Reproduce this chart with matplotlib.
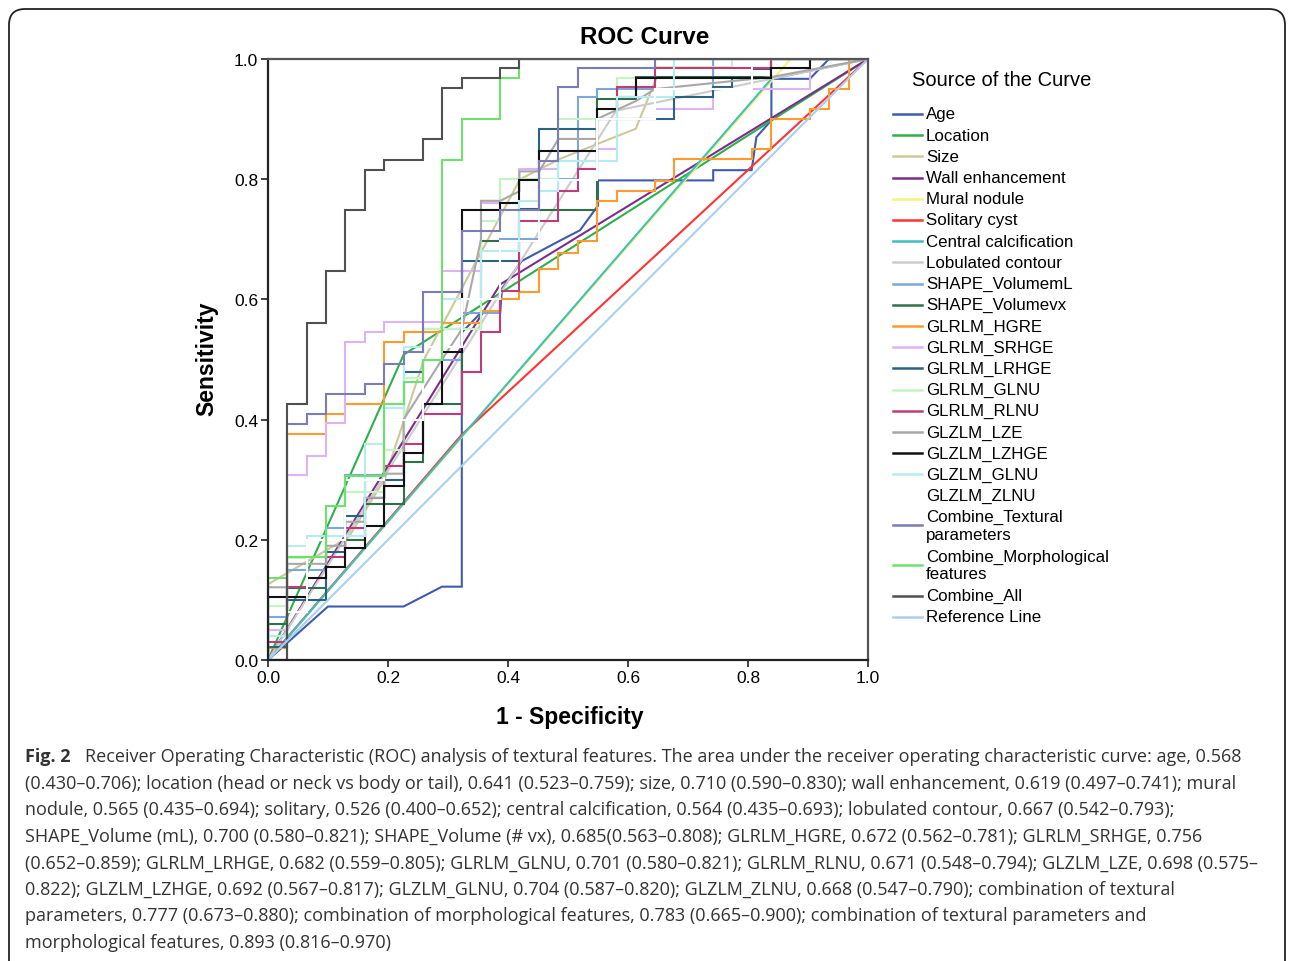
"""ROC curves of morphological and textural features (Fig. 2 replica)."""

import matplotlib
matplotlib.use("Agg")
import matplotlib.pyplot as plt
from matplotlib.lines import Line2D
from matplotlib.patches import FancyBboxPatch
from matplotlib.transforms import IdentityTransform

# ---------------------------------------------------------------------------
# Data: (1 - specificity, sensitivity) vertices
# ---------------------------------------------------------------------------

AGE = [(0, 0), (0.1, 0.089), (0.226, 0.089), (0.29, 0.122), (0.323, 0.122),
       (0.323, 0.545), (0.355, 0.578), (0.387, 0.578), (0.39, 0.618),
       (0.423, 0.664), (0.487, 0.698), (0.52, 0.715), (0.55, 0.756),
       (0.55, 0.798), (0.742, 0.798), (0.742, 0.815), (0.806, 0.815),
       (0.814, 0.87), (0.839, 0.898), (0.839, 0.967), (0.903, 0.967),
       (0.935, 1.0), (1, 1)]
LOCATION = [(0, 0), (0.226, 0.508), (1, 1)]
SIZE = [(0, 0), (0, 0.126), (0.134, 0.204), (0.194, 0.30), (0.26, 0.50),
        (0.42, 0.80), (0.487, 0.834), (0.613, 0.884), (0.648, 0.97),
        (0.742, 0.97), (0.742, 1.0), (1, 1)]
WALL = [(0, 0), (0.387, 0.625), (1, 1)]
MURAL = [(0, 0), (0.871, 1.0), (1, 1)]
SOLITARY = [(0, 0), (0.323, 0.375), (1, 1)]
CALCIFICATION = [(0, 0), (0.839, 0.967), (1, 1)]
LOBULATED = [(0, 0), (0.58, 0.914), (1, 1)]
VOLUME_ML = [(0, 0), (0, 0.071), (0.032, 0.071), (0.032, 0.15), (0.097, 0.15),
             (0.097, 0.22), (0.129, 0.22), (0.129, 0.307), (0.194, 0.307),
             (0.194, 0.40), (0.258, 0.40), (0.258, 0.50), (0.323, 0.50),
             (0.323, 0.578), (0.387, 0.578), (0.387, 0.70), (0.452, 0.70),
             (0.452, 0.80), (0.516, 0.80), (0.516, 0.936), (0.548, 0.936),
             (0.548, 0.95), (0.742, 0.95), (0.742, 1.0), (1, 1)]
VOLUME_VX = [(0, 0), (0, 0.06), (0.032, 0.06), (0.032, 0.12), (0.097, 0.12),
             (0.097, 0.2), (0.161, 0.2), (0.161, 0.26), (0.226, 0.26),
             (0.226, 0.33), (0.258, 0.33), (0.258, 0.426), (0.323, 0.426),
             (0.323, 0.55), (0.355, 0.55), (0.355, 0.698), (0.452, 0.698),
             (0.452, 0.748), (0.548, 0.748), (0.548, 0.933), (0.613, 0.933),
             (0.613, 0.97), (0.839, 0.97), (0.839, 1.0), (1, 1)]
HGRE = [(0, 0), (0, 0.02), (0.032, 0.02), (0.032, 0.376), (0.097, 0.376),
        (0.097, 0.409), (0.129, 0.409), (0.129, 0.426), (0.194, 0.426),
        (0.194, 0.529), (0.226, 0.529), (0.226, 0.545), (0.29, 0.545),
        (0.29, 0.56), (0.355, 0.56), (0.355, 0.58), (0.387, 0.58),
        (0.387, 0.60), (0.419, 0.60), (0.419, 0.612), (0.452, 0.612),
        (0.452, 0.65), (0.484, 0.65), (0.484, 0.678), (0.516, 0.678),
        (0.516, 0.698), (0.548, 0.698), (0.548, 0.764), (0.581, 0.764),
        (0.581, 0.78), (0.645, 0.78), (0.645, 0.797), (0.677, 0.797),
        (0.677, 0.834), (0.806, 0.834), (0.806, 0.85), (0.839, 0.85),
        (0.839, 0.9), (0.903, 0.9), (0.903, 0.917), (0.935, 0.917),
        (0.935, 0.95), (0.968, 0.95), (0.968, 1.0), (1, 1)]
SRHGE = [(0, 0), (0, 0.05), (0.032, 0.05), (0.032, 0.307), (0.065, 0.307),
         (0.065, 0.34), (0.097, 0.34), (0.097, 0.395), (0.129, 0.395),
         (0.129, 0.529), (0.161, 0.529), (0.161, 0.545), (0.194, 0.545),
         (0.194, 0.562), (0.29, 0.562), (0.29, 0.648), (0.355, 0.648),
         (0.355, 0.76), (0.387, 0.76), (0.387, 0.80), (0.419, 0.80),
         (0.419, 0.817), (0.484, 0.817), (0.484, 0.83), (0.548, 0.83),
         (0.548, 0.85), (0.581, 0.85), (0.581, 0.90), (0.645, 0.90),
         (0.645, 0.917), (0.742, 0.917), (0.742, 0.95), (0.903, 0.95),
         (0.903, 1.0), (1, 1)]
LRHGE = [(0, 0), (0, 0.021), (0.032, 0.021), (0.032, 0.10), (0.097, 0.10),
         (0.097, 0.18), (0.129, 0.18), (0.129, 0.24), (0.161, 0.24),
         (0.161, 0.30), (0.226, 0.30), (0.226, 0.479), (0.258, 0.479),
         (0.258, 0.55), (0.323, 0.55), (0.323, 0.664), (0.419, 0.664),
         (0.419, 0.75), (0.452, 0.75), (0.452, 0.883), (0.548, 0.883),
         (0.548, 0.9), (0.677, 0.9), (0.677, 0.936), (0.742, 0.936),
         (0.742, 0.953), (0.774, 0.953), (0.774, 0.968), (0.806, 0.968),
         (0.806, 0.983), (0.839, 0.983), (0.839, 1.0), (1, 1)]
GLRLM_GLNU = [(0, 0), (0, 0.09), (0.032, 0.09), (0.032, 0.17), (0.065, 0.17),
              (0.065, 0.2), (0.129, 0.2), (0.129, 0.28), (0.194, 0.28),
              (0.194, 0.35), (0.226, 0.35), (0.226, 0.47), (0.258, 0.47),
              (0.258, 0.55), (0.355, 0.55), (0.355, 0.731), (0.387, 0.731),
              (0.387, 0.80), (0.484, 0.80), (0.484, 0.90), (0.581, 0.90),
              (0.581, 0.968), (0.645, 0.968), (0.645, 0.986), (0.774, 0.986),
              (0.774, 1.0), (1, 1)]
RLNU = [(0, 0), (0, 0.03), (0.032, 0.03), (0.032, 0.121), (0.065, 0.121),
        (0.065, 0.171), (0.129, 0.171), (0.129, 0.22), (0.161, 0.22),
        (0.161, 0.27), (0.194, 0.27), (0.194, 0.323), (0.226, 0.323),
        (0.226, 0.36), (0.258, 0.36), (0.258, 0.409), (0.323, 0.409),
        (0.323, 0.479), (0.355, 0.479), (0.355, 0.545), (0.387, 0.545),
        (0.387, 0.614), (0.419, 0.614), (0.419, 0.731), (0.484, 0.731),
        (0.484, 0.78), (0.516, 0.78), (0.516, 0.817), (0.548, 0.817),
        (0.548, 0.9), (0.581, 0.9), (0.581, 0.953), (0.645, 0.953),
        (0.645, 0.985), (0.839, 0.985), (0.839, 1.0), (1, 1)]
LZE = [(0, 0), (0, 0.121), (0.032, 0.121), (0.032, 0.16), (0.097, 0.16),
       (0.097, 0.19), (0.129, 0.19), (0.129, 0.23), (0.161, 0.23),
       (0.161, 0.27), (0.194, 0.27), (0.194, 0.31), (0.226, 0.31),
       (0.226, 0.40), (0.29, 0.50), (0.323, 0.55), (0.355, 0.70),
       (0.355, 0.764), (0.387, 0.764), (0.419, 0.78), (0.419, 0.813),
       (0.452, 0.813), (0.484, 0.867), (0.548, 0.867), (0.548, 0.90),
       (0.613, 0.93), (0.645, 0.95), (0.839, 0.97), (1, 1)]
LZHGE = [(0, 0), (0, 0.104), (0.065, 0.104), (0.065, 0.137), (0.097, 0.137),
         (0.097, 0.154), (0.129, 0.154), (0.129, 0.187), (0.161, 0.187),
         (0.161, 0.223), (0.194, 0.223), (0.194, 0.29), (0.226, 0.29),
         (0.226, 0.345), (0.258, 0.345), (0.258, 0.426), (0.29, 0.426),
         (0.29, 0.512), (0.323, 0.512), (0.323, 0.748), (0.387, 0.748),
         (0.387, 0.76), (0.419, 0.76), (0.419, 0.798), (0.452, 0.798),
         (0.452, 0.847), (0.548, 0.847), (0.548, 0.916), (0.581, 0.916),
         (0.581, 0.936), (0.613, 0.936), (0.613, 0.968), (0.839, 0.968),
         (0.839, 0.985), (0.903, 0.985), (0.903, 1.0), (1, 1)]
GLZLM_GLNU = [(0, 0), (0, 0.04), (0.032, 0.04), (0.032, 0.19), (0.065, 0.19),
              (0.065, 0.207), (0.161, 0.207), (0.161, 0.359), (0.194, 0.359),
              (0.194, 0.42), (0.226, 0.42), (0.226, 0.52), (0.29, 0.52),
              (0.29, 0.60), (0.355, 0.60), (0.355, 0.681), (0.419, 0.681),
              (0.419, 0.764), (0.452, 0.764), (0.452, 0.781), (0.484, 0.781),
              (0.484, 0.831), (0.581, 0.831), (0.581, 0.936), (0.677, 0.936),
              (0.677, 1.0), (1, 1)]
ZLNU = [(0, 0), (0, 0.08), (0.065, 0.08), (0.065, 0.2), (0.129, 0.2),
        (0.129, 0.3), (0.194, 0.3), (0.194, 0.4), (0.258, 0.4), (0.258, 0.52),
        (0.323, 0.52), (0.323, 0.6), (0.387, 0.6), (0.387, 0.698),
        (0.452, 0.698), (0.452, 0.798), (0.548, 0.798), (0.548, 0.9),
        (0.645, 0.9), (0.645, 0.95), (0.806, 0.95), (0.806, 1.0), (1, 1)]
COMBINE_TEXTURAL = [(0, 0), (0.032, 0), (0.032, 0.393), (0.065, 0.393),
                    (0.065, 0.409), (0.097, 0.409), (0.097, 0.442),
                    (0.161, 0.442), (0.161, 0.459), (0.194, 0.459),
                    (0.194, 0.492), (0.226, 0.492), (0.226, 0.512),
                    (0.258, 0.512), (0.258, 0.612), (0.323, 0.612),
                    (0.323, 0.714), (0.387, 0.714), (0.387, 0.748),
                    (0.452, 0.748), (0.452, 0.831), (0.484, 0.831),
                    (0.484, 0.953), (0.516, 0.953), (0.516, 0.985),
                    (0.645, 0.985), (0.645, 1.0), (1, 1)]
COMBINE_MORPH = [(0, 0), (0, 0.137), (0.032, 0.137), (0.032, 0.171),
                 (0.097, 0.171), (0.097, 0.257), (0.129, 0.257),
                 (0.129, 0.306), (0.194, 0.306), (0.194, 0.426),
                 (0.226, 0.426), (0.226, 0.462), (0.258, 0.462),
                 (0.258, 0.50), (0.29, 0.50), (0.29, 0.832), (0.323, 0.832),
                 (0.323, 0.9), (0.387, 0.9), (0.387, 0.968), (0.419, 0.968),
                 (0.419, 1.0), (1, 1)]
COMBINE_ALL = [(0, 0), (0.032, 0), (0.032, 0.426), (0.065, 0.426),
               (0.065, 0.561), (0.097, 0.561), (0.097, 0.648), (0.129, 0.648),
               (0.129, 0.748), (0.161, 0.748), (0.161, 0.815), (0.194, 0.815),
               (0.194, 0.832), (0.258, 0.832), (0.258, 0.867), (0.29, 0.867),
               (0.29, 0.951), (0.323, 0.951), (0.323, 0.968), (0.387, 0.968),
               (0.387, 0.985), (0.419, 0.985), (0.419, 1.0), (1, 1)]
REFERENCE = [(0, 0), (1, 1)]

LABELS = ["Age", "Location", "Size", "Wall enhancement", "Mural nodule",
          "Solitary cyst", "Central calcification", "Lobulated contour",
          "SHAPE_VolumemL", "SHAPE_Volumevx", "GLRLM_HGRE", "GLRLM_SRHGE",
          "GLRLM_LRHGE", "GLRLM_GLNU", "GLRLM_RLNU", "GLZLM_LZE",
          "GLZLM_LZHGE", "GLZLM_GLNU", "GLZLM_ZLNU",
          "Combine_Textural\nparameters", "Combine_Morphological\nfeatures",
          "Combine_All", "Reference Line"]
CURVES = [AGE, LOCATION, SIZE, WALL, MURAL, SOLITARY, CALCIFICATION,
          LOBULATED, VOLUME_ML, VOLUME_VX, HGRE, SRHGE, LRHGE, GLRLM_GLNU,
          RLNU, LZE, LZHGE, GLZLM_GLNU, ZLNU, COMBINE_TEXTURAL,
          COMBINE_MORPH, COMBINE_ALL, REFERENCE]
COLORS = ["#3f5bb0", "#2eb04a", "#cfc79a", "#7a2e8c", "#f7f27a", "#ff3333",
          "#3fbfbf", "#cccccc", "#78a8dc", "#2f6f4a", "#ff9a2e", "#dcb4f4",
          "#2a6480", "#c4f4c4", "#c03c78", "#a8a8a8", "#111111", "#b4ecf0",
          "#ffffff", "#7c7cb4", "#6ee06e", "#505050", "#a8d0f0"]

CAPTION_LINES = [
    "(0.430\u20130.706); location (head or neck vs body or tail), 0.641 (0.523\u20130.759); size, 0.710 (0.590\u20130.830); wall enhancement, 0.619 (0.497\u20130.741); mural",
    "nodule, 0.565 (0.435\u20130.694); solitary, 0.526 (0.400\u20130.652); central calcification, 0.564 (0.435\u20130.693); lobulated contour, 0.667 (0.542\u20130.793);",
    "SHAPE_Volume (mL), 0.700 (0.580\u20130.821); SHAPE_Volume (# vx), 0.685(0.563\u20130.808); GLRLM_HGRE, 0.672 (0.562\u20130.781); GLRLM_SRHGE, 0.756",
    "(0.652\u20130.859); GLRLM_LRHGE, 0.682 (0.559\u20130.805); GLRLM_GLNU, 0.701 (0.580\u20130.821); GLRLM_RLNU, 0.671 (0.548\u20130.794); GLZLM_LZE, 0.698 (0.575\u2013",
    "0.822); GLZLM_LZHGE, 0.692 (0.567\u20130.817); GLZLM_GLNU, 0.704 (0.587\u20130.820); GLZLM_ZLNU, 0.668 (0.547\u20130.790); combination of textural",
    "parameters, 0.777 (0.673\u20130.880); combination of morphological features, 0.783 (0.665\u20130.900); combination of textural parameters and",
    "morphological features, 0.893 (0.816\u20130.970)",
]
CAPTION_FIRST = ("Receiver Operating Characteristic (ROC) analysis of textural features. "
                 "The area under the receiver operating characteristic curve: age, 0.568")

# ---------------------------------------------------------------------------
# Figure
# ---------------------------------------------------------------------------

W, H = 1292, 962
CHART_FONT = ["Liberation Sans", "DejaVu Sans"]
CAPTION_FONT = ["Open Sans", "DejaVu Sans"]

fig = plt.figure(figsize=(W / 100, H / 100), dpi=100)
fig.patch.set_facecolor("white")

# outer rounded frame (extends past the bottom edge)
frame = FancyBboxPatch((9, -30), 1276, H - 10 + 30,
                       boxstyle="round,pad=0,rounding_size=16",
                       fc="none", ec="#222222", lw=1.3,
                       transform=IdentityTransform())
fig.add_artist(frame)

ax = fig.add_axes([268 / W, 1 - 661 / H, 600 / W, 601 / H])
for pts, color in zip(CURVES, COLORS):
    xs = [p[0] for p in pts]
    ys = [p[1] for p in pts]
    ax.plot(xs, ys, color=color, lw=1.5, solid_joinstyle="miter")

ax.set_xlim(0, 1)
ax.set_ylim(0, 1)
ticks = [0.0, 0.2, 0.4, 0.6, 0.8, 1.0]
ax.set_xticks(ticks)
ax.set_yticks(ticks)
ax.set_xticklabels([f"{t:.1f}" for t in ticks], family=CHART_FONT, fontsize=12.5)
ax.set_yticklabels([f"{t:.1f}" for t in ticks], family=CHART_FONT, fontsize=12.5)
ax.tick_params(direction="out", length=5, width=1.2, color="#222222", pad=2)
for side, spine in ax.spines.items():
    spine.set_linewidth(1.6)
    spine.set_color("#222222" if side in ("left", "bottom") else "#555555")
    spine.set_zorder(5)

fig.text(645 / W, 1 - 37 / H, "ROC Curve", ha="center", va="center",
         fontsize=17.5, weight="bold", family=CHART_FONT)
fig.text(207 / W, 1 - 359 / H, "Sensitivity", ha="center", va="center",
         rotation=90, fontsize=16.5, weight="bold", family=CHART_FONT)
fig.text(570 / W, 1 - 718 / H, "1 - Specificity", ha="center", va="center",
         fontsize=16.5, weight="bold", family=CHART_FONT)

# legend drawn by hand to mimic the SPSS layout
fig.text(1002 / W, 1 - 80 / H, "Source of the Curve", ha="center", va="center",
         fontsize=14.5, family=CHART_FONT)
row_y = 115
for label, color in zip(LABELS, COLORS):
    two_lines = "\n" in label
    y_line = row_y + (8.5 if two_lines else 0)
    fig.add_artist(Line2D([893 / W, 922 / W], [1 - y_line / H, 1 - y_line / H],
                          color=color, lw=1.8, transform=fig.transFigure))
    fig.text(926 / W, 1 - y_line / H, label, ha="left", va="center",
             fontsize=12.2, family=CHART_FONT, linespacing=1.2)
    row_y += 39.5 if two_lines else 21.2

# caption
fig.text(25 / W, 1 - 757 / H, "Fig. 2", ha="left", va="center",
         fontsize=13, weight="bold", family=CAPTION_FONT, color="#333333")
fig.text(85 / W, 1 - 757 / H, CAPTION_FIRST, ha="left", va="center",
         fontsize=13, family=CAPTION_FONT, color="#333333")
for i, line in enumerate(CAPTION_LINES):
    fig.text(25 / W, 1 - (784 + i * 26.5) / H, line, ha="left", va="center",
             fontsize=13, family=CAPTION_FONT, color="#333333")

fig.savefig("out.png", dpi=100)
plt.close(fig)
